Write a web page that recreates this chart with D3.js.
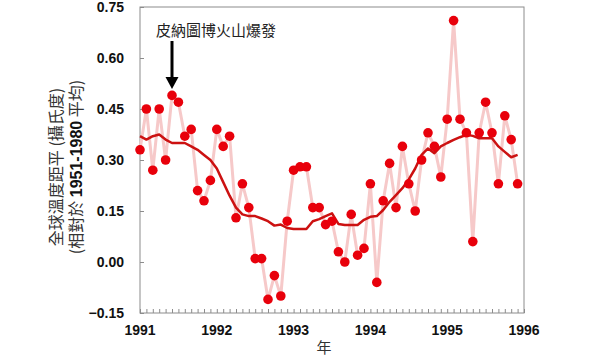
<!DOCTYPE html>
<html><head><meta charset="utf-8">
<script src="https://cdn.jsdelivr.net/npm/d3@7"></script>
<style>body{margin:0;background:#fff}svg{display:block}</style>
</head><body>
<svg id="c" width="591" height="362"></svg>
<script>
const yearTicks = [1991, 1992, 1993, 1994, 1995, 1996];
const yTicks = [-0.15, 0.00, 0.15, 0.30, 0.45, 0.60, 0.75];
const monthly = [
  0.33, 0.45, 0.27, 0.45, 0.30, 0.49, 0.47, 0.37, 0.39, 0.21, 0.18, 0.24,
  0.39, 0.34, 0.37, 0.13, 0.23, 0.16, 0.01, 0.01, -0.11, -0.04, -0.10, 0.12,
  0.27, 0.28, 0.28, 0.16, 0.16, 0.11, 0.12, 0.03, 0.00, 0.14, 0.02, 0.04,
  0.23, -0.06, 0.18, 0.29, 0.16, 0.34, 0.23, 0.15, 0.30, 0.38, 0.34, 0.25,
  0.42, 0.71, 0.42, 0.38, 0.06, 0.38, 0.47, 0.38, 0.23, 0.43, 0.36, 0.23
];
const smoothed = [
  0.37, 0.36, 0.37, 0.375, 0.36, 0.35, 0.35, 0.35, 0.34, 0.33, 0.315, 0.30,
  0.275, 0.235, 0.195, 0.16, 0.14, 0.135, 0.135, 0.128, 0.12, 0.107, 0.11, 0.10,
  0.097, 0.097, 0.097, 0.12, 0.126, 0.135, 0.143, 0.112, 0.109, 0.109, 0.109, 0.124,
  0.133, 0.135, 0.153, 0.177, 0.197, 0.217, 0.243, 0.275, 0.315, 0.334, 0.32, 0.34,
  0.35, 0.359, 0.367, 0.374, 0.371, 0.364, 0.364, 0.364, 0.34, 0.324, 0.308, 0.315
];
const annotation = "皮納圖博火山爆發";
const annotationMonth = 5;

const svg = d3.select("#c");
const L = 140, R = 524, T = 7, B = 313;
const x = d3.scaleLinear().domain([1991, 1996]).range([L, R]);
const y = d3.scaleLinear().domain([-0.15, 0.75]).range([B, T]);
const t = i => 1991 + i / 12;

// frame
svg.append("rect").attr("x", L).attr("y", T).attr("width", R - L).attr("height", B - T)
  .attr("fill", "none").attr("stroke", "#8c8c8c").attr("stroke-width", 1);

// x axis (monthly ticks inward)
const monthTicks = d3.range(0, 61).map(t);
const xAxis = d3.axisBottom(x).tickValues(monthTicks).tickSize(-4).tickFormat("");
const gx = svg.append("g").attr("transform", `translate(0,${B})`).call(xAxis);
gx.select(".domain").remove();
gx.selectAll("line").attr("stroke", "#8c8c8c");
svg.append("g").selectAll("text").data(yearTicks).join("text")
  .attr("x", d => x(d)).attr("y", 335).attr("text-anchor", "middle")
  .attr("font-family", "Liberation Sans, Arial, sans-serif").attr("font-weight", "bold")
  .attr("font-size", 14).attr("fill", "#111").text(d => d);

// y axis
const yAxis = d3.axisLeft(y).tickValues(yTicks).tickSize(-4).tickFormat("");
const gy = svg.append("g").attr("transform", `translate(${L},0)`).call(yAxis);
gy.select(".domain").remove();
gy.selectAll("line").attr("stroke", "#8c8c8c");
svg.append("g").selectAll("text").data(yTicks).join("text")
  .attr("x", 124).attr("y", d => y(d) + 5).attr("text-anchor", "end")
  .attr("font-family", "Liberation Sans, Arial, sans-serif").attr("font-weight", "bold")
  .attr("font-size", 14).attr("fill", "#111").text(d => d3.format(".2f")(d));

// raw line
const line = d3.line().x((d, i) => x(t(i))).y(d => y(d));
svg.append("path").datum(monthly).attr("d", line).attr("fill", "none")
  .attr("stroke", "#f6c9c9").attr("stroke-width", 3).attr("stroke-linejoin", "round");
// smoothed
svg.append("path").datum(smoothed).attr("d", line).attr("fill", "none")
  .attr("stroke", "#cc1111").attr("stroke-width", 2.5).attr("stroke-linejoin", "round");
// dots
svg.append("g").selectAll("circle").data(monthly).join("circle")
  .attr("cx", (d, i) => x(t(i))).attr("cy", d => y(d)).attr("r", 4.8).attr("fill", "#e8000b");

// annotation
const ax = x(t(annotationMonth));
svg.append("text").attr("x", 156).attr("y", 36)
  .attr("font-family", "Noto Sans CJK TC, sans-serif").attr("font-size", 15)
  .attr("fill", "#222").text(annotation);
svg.append("line").attr("x1", ax).attr("x2", ax).attr("y1", 41).attr("y2", 80)
  .attr("stroke", "#000").attr("stroke-width", 3);
svg.append("path").attr("d", `M${ax - 6.5},77 L${ax + 6.5},77 L${ax},89 Z`).attr("fill", "#000");

// axis titles
svg.append("text").attr("x", 324).attr("y", 353).attr("text-anchor", "middle")
  .attr("font-family", "Noto Sans CJK TC, sans-serif").attr("font-size", 15)
  .attr("fill", "#333").text("年");

const yt = svg.append("text").attr("transform", "translate(0,167) rotate(-90)")
  .attr("text-anchor", "middle").attr("font-family", "Noto Sans CJK TC, sans-serif")
  .attr("font-size", 16).attr("fill", "#333");
yt.append("tspan").attr("x", 0).attr("y", 62).text("全球溫度距平 (攝氏度)");
const l2 = yt.append("tspan").attr("x", 0).attr("y", 82);
l2.append("tspan").text("(相對於 ");
l2.append("tspan").attr("font-family", "Liberation Sans, Arial, sans-serif").attr("font-weight", "bold").attr("fill", "#111").text("1951-1980");
l2.append("tspan").text(" 平均)");
</script>
</body></html>
